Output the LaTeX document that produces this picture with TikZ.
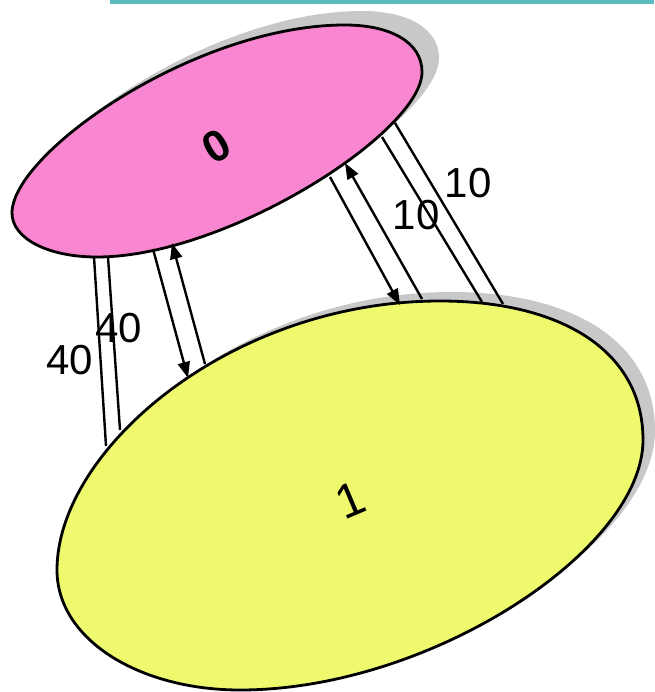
\documentclass[tikz,border=0pt]{standalone}
\usepackage{fontspec}
\setmainfont{Liberation Sans}
\usetikzlibrary{arrows.meta}
\definecolor{pinkfill}{RGB}{249,134,208}
\definecolor{yellowfill}{RGB}{238,249,110}
\definecolor{shadowgray}{RGB}{200,200,200}
\definecolor{tealbar}{RGB}{91,187,190}
\begin{document}
\begin{tikzpicture}[x=1pt,y=-1pt,
  link/.style={line width=2.4pt, draw=black},
  arr/.style={link, -{Triangle[length=16pt,width=12pt]}},
  lbl/.style={font=\fontsize{42}{48}\selectfont, inner sep=0pt},
  blob/.style={line width=2.8pt, draw=black},
  pinkshape/.style={insert path={(345,25) .. controls (195,25) and (12,153) .. (12,213) .. controls (12,238) and (47,257) .. (97,257) .. controls (227,257) and (422,132) .. (422,72) .. controls (422,42) and (390,25) .. (345,25) -- cycle}},
  yellowshape/.style={insert path={(440,301) .. controls (230,301) and (57,450) .. (57,570) .. controls (57,640) and (140,690) .. (240,690) .. controls (430,690) and (643,550) .. (643,440) .. controls (643,350) and (560,301) .. (440,301) -- cycle}},
]
\useasboundingbox (0,0) rectangle (654,692);
\fill[tealbar] (110,0) rectangle (654,4);

% shadows
\fill[shadowgray, shift={(17,-14)}, pinkshape];
\fill[shadowgray, shift={(12,-9)}, yellowshape];

% discs
\filldraw[blob, fill=pinkfill, pinkshape];
\filldraw[blob, fill=yellowfill, yellowshape];

% connector ends
\coordinate (g1) at (94,257);  \coordinate (g2) at (106,446);
\coordinate (h1) at (108,257); \coordinate (h2) at (120,430);
\coordinate (e1) at (153,249); \coordinate (e2) at (188,378);
\coordinate (f1) at (205,364); \coordinate (f2) at (172,243);
\coordinate (a1) at (330,177); \coordinate (a2) at (400,305);
\coordinate (b1) at (422,299); \coordinate (b2) at (345,163);
\coordinate (c1) at (382,137); \coordinate (c2) at (482,302);
\coordinate (d1) at (395,123); \coordinate (d2) at (503,304);

\draw[link] (g1) -- (g2);
\draw[link] (h1) -- (h2);
\draw[arr] (e1) -- (e2);
\draw[arr] (f1) -- (f2);
\draw[arr] (a1) -- (a2);
\draw[arr] (b1) -- (b2);
\draw[link] (c1) -- (c2);
\draw[link] (d1) -- (d2);

% labels
\node[lbl] (l40a) at (70,360) {40};
\node[lbl] (l40b) at (119,328) {40};
\node[lbl] (l10a) at (416,215) {10};
\node[lbl] (l10b) at (468,183) {10};
\node[lbl, font=\fontsize{44}{50}\selectfont\bfseries, rotate=30] (l0) at (217,146) {0};
\node[lbl, font=\fontsize{48}{56}\selectfont, rotate=23] (l1) at (350,500) {1};
\end{tikzpicture}
\end{document}
